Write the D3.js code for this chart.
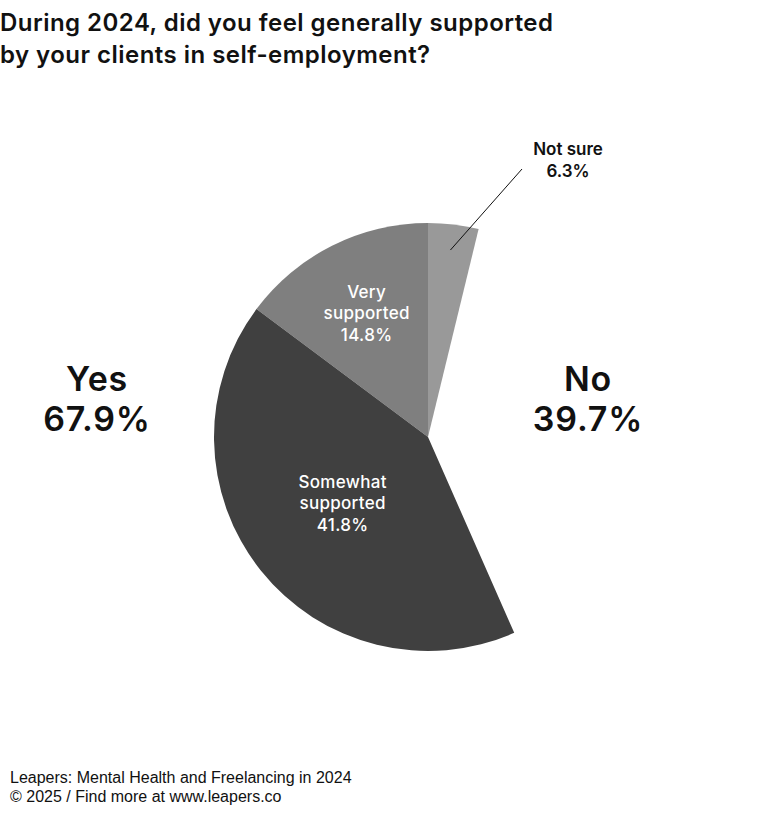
<!DOCTYPE html>
<html>
<head>
<meta charset="utf-8">
<script src="https://cdn.jsdelivr.net/npm/d3@7"></script>
<style>
  body { margin: 0; background: #fff; }
  svg { display: block; }
</style>
</head>
<body>
<div id="chart"></div>
<script>
const [WIDTH, HEIGHT] = [783, 820];

const titleLines = ['During 2024, did you feel generally supported', 'by your clients in self-employment?'];
const sourceLines = ['Leapers: Mental Health and Freelancing in 2024', '\u00a9 2025 / Find more at www.leapers.co'];

// slices: the label value, and the share of the full circle each one takes in the picture
const categories = ['Not sure', 'Very supported', 'Somewhat supported'];
const values = [6.3, 14.8, 41.8];
const arcShares = [3.8, 14.8, 41.8];
const directions = [1, -1, -1]; // clockwise / counter-clockwise from 12 o'clock

const groups = ['Yes', 'No'];
const groupValues = [67.9, 39.7];

const SLICE_STYLES = {
    'Not sure': { fill: '#999999', text: '#111', labelR: null },
    'Very supported': { fill: '#7f7f7f', text: '#fff', labelR: 0.64 },
    'Somewhat supported': { fill: '#404040', text: '#fff', labelR: 0.51 },
};

const FONT = 'Inter, "Noto Sans", sans-serif';
const cx = 428, cy = 437, R = 214;

const svg = d3.select('#chart').append('svg')
    .attr('width', WIDTH)
    .attr('height', HEIGHT)
    .attr('viewBox', `0 0 ${WIDTH} ${HEIGHT}`);

// title, stretched a bit with letter-spacing so line 1 is as wide as the original
const title = svg.append('g')
    .selectAll('text')
    .data(titleLines)
    .join('text')
    .attr('x', 0)
    .attr('y', (d, i) => 31 + i * 32)
    .attr('font-family', FONT)
    .attr('font-size', 24)
    .attr('font-weight', 600)
    .attr('fill', '#111')
    .text((d) => d);
const firstLen = title.node().getComputedTextLength();
const spacing = (553 - firstLen) / (titleLines[0].length - 1);
title.attr('letter-spacing', spacing);

// build slice angles from the data
const angle = d3.scaleLinear().domain([0, 100]).range([0, 2 * Math.PI]);
let cw = 0, ccw = 0;
const slices = categories.map((c, i) => {
    const a = angle(arcShares[i]);
    let start, end;
    if (directions[i] > 0) { start = cw; end = cw + a; cw = end; }
    else { end = ccw; start = ccw - a; ccw = start; }
    return { category: c, value: values[i], startAngle: start, endAngle: end };
});

const arc = d3.arc().innerRadius(0).outerRadius(R);
const pie = svg.append('g').attr('transform', `translate(${cx},${cy})`);

pie.selectAll('path')
    .data(slices)
    .join('path')
    .attr('d', arc)
    .attr('fill', (d) => SLICE_STYLES[d.category].fill);

// inside labels
slices.filter((d) => SLICE_STYLES[d.category].labelR).forEach((d) => {
    const r = SLICE_STYLES[d.category].labelR * R;
    const mid = (d.startAngle + d.endAngle) / 2;
    const x = r * Math.sin(mid), y = -r * Math.cos(mid);
    const words = d.category.split(' ').concat([d.value + '%']);
    pie.append('text')
        .attr('text-anchor', 'middle')
        .attr('font-family', FONT)
        .attr('font-size', 17)
        .attr('font-weight', 500)
        .attr('letter-spacing', 0.3)
        .attr('fill', SLICE_STYLES[d.category].text)
        .selectAll('tspan')
        .data(words)
        .join('tspan')
        .attr('x', x)
        .attr('y', (w, i) => y - 17 + i * 21.5)
        .text((w) => w);
});

// outside label with leader line
const ns = slices[0];
const nsMid = (ns.startAngle + ns.endAngle) / 2;
const p0 = [0.88 * R * Math.sin(nsMid), -0.88 * R * Math.cos(nsMid)];
pie.append('line')
    .attr('x1', p0[0]).attr('y1', p0[1])
    .attr('x2', 94).attr('y2', -268)
    .attr('stroke', '#111')
    .attr('stroke-width', 1);
pie.append('text')
    .attr('text-anchor', 'middle')
    .attr('font-family', FONT)
    .attr('font-size', 17)
    .attr('font-weight', 600)
    .attr('fill', '#111')
    .selectAll('tspan')
    .data([ns.category, ns.value + '%'])
    .join('tspan')
    .attr('x', 140)
    .attr('y', (w, i) => -282 + i * 22)
    .text((w) => w);

// Yes / No
const groupX = [97, 588];
svg.append('g')
    .selectAll('text')
    .data(groups)
    .join('text')
    .attr('text-anchor', 'middle')
    .attr('font-family', FONT)
    .attr('font-size', 34)
    .attr('font-weight', 600)
    .attr('letter-spacing', 0.8)
    .attr('fill', '#111')
    .each(function (d, i) {
        d3.select(this).selectAll('tspan')
            .data([d, groupValues[i] + '%'])
            .join('tspan')
            .attr('x', groupX[i])
            .attr('y', (w, j) => 391 + j * 40)
            .text((w) => w);
    });

// source
svg.append('g')
    .selectAll('text')
    .data(sourceLines)
    .join('text')
    .attr('x', 10)
    .attr('y', (d, i) => 783 + i * 19)
    .attr('font-family', '"Liberation Sans", Arial, sans-serif')
    .attr('font-size', 16)
    .attr('fill', '#111')
    .text((d) => d);
</script>
</body>
</html>
